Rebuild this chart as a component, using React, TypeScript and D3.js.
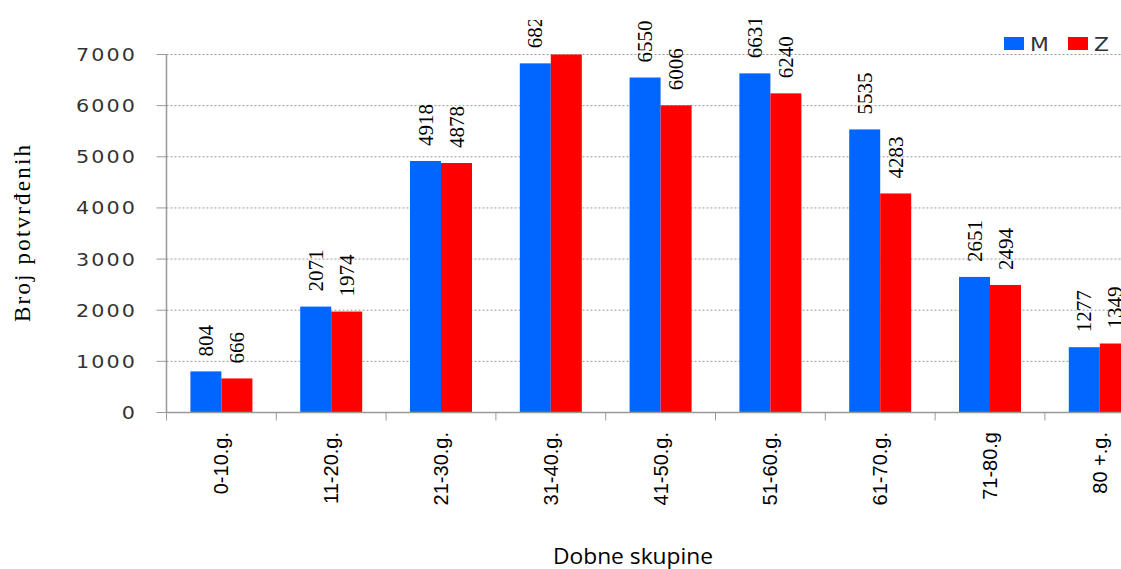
import React from "react";
import * as d3 from "d3";

const categories = ["0-10.g.", "11-20.g.", "21-30.g.", "31-40.g.", "41-50.g.", "51-60.g.", "61-70.g.", "71-80.g", "80 +.g."];
const valuesM = [804, 2071, 4918, 6827, 6550, 6631, 5535, 2651, 1277];
const valuesZ = [666, 1974, 4878, 7600, 6006, 6240, 4283, 2494, 1349];
const yTicks = [0, 1000, 2000, 3000, 4000, 5000, 6000, 7000];
const seriesNames = ["M", "Z"];
const colors = ["#0066FF", "#FF0000"];

export default function App() {
  const W = 1121, H = 569;
  const x0 = 166.5;
  const band = 109.8;
  const yMax = 7000;
  const x = d3.scaleBand<string>().domain(categories).range([x0, x0 + band * categories.length]).paddingInner(0).paddingOuter(0);
  const y = d3.scaleLinear().domain([0, yMax]).range([412.5, 54.5]);
  const bw = 31;
  const groupOff = (band - 2 * bw) / 2;
  const series = [valuesM, valuesZ];
  const labelFont = "'Liberation Serif', 'DejaVu Serif', serif";
  const xFont = "'Liberation Sans Narrow', 'Liberation Sans', Arial, sans-serif";
  const tickFont = "'DejaVu Sans', Verdana, sans-serif";

  return (
    <svg width={W} height={H} style={{ position: "absolute", left: 0, top: 0, background: "#fff" }}>
      <defs>
        <clipPath id="barclip">
          <rect x={x0} y={y(yMax)} width={W - x0} height={y(0) - y(yMax)} />
        </clipPath>
        <clipPath id="labelclip">
          <rect x={x0} y={20} width={W - x0} height={412.5 - 20} />
        </clipPath>
      </defs>
      {/* gridlines */}
      {yTicks.filter(t => t > 0).map(t => (
        <line key={t} x1={x0} x2={W} y1={y(t)} y2={y(t)} stroke="#999" strokeDasharray="2,2" strokeWidth={1} />
      ))}
      {/* bars */}
      <g clipPath="url(#barclip)">
        {categories.map((c, i) => (
          <g key={c}>
            {series.map((s, k) => {
              const bx = (x(c) as number) + groupOff + k * bw;
              return <rect key={k} x={bx} y={y(s[i])} width={bw} height={y(0) - y(s[i])} fill={colors[k]} />;
            })}
          </g>
        ))}
      </g>
      <g clipPath="url(#labelclip)">
        {categories.map((c, i) => (
          <g key={"lg" + c}>
            {series.map((s, k) => {
              if (s[i] > yMax) return null;
              const bx = (x(c) as number) + groupOff + k * bw + bw / 2;
              const ty = y(s[i]) - 15;
              return (
                <text key={"l" + k} transform={`translate(${bx + 7},${ty}) rotate(-90)`} fontFamily={labelFont} fontSize={21} fill="#000" textAnchor="start">
                  {s[i]}
                </text>
              );
            })}
          </g>
        ))}
      </g>
      {/* y axis */}
      <line x1={x0} x2={x0} y1={y(7000)} y2={y(0)} stroke="#999" strokeWidth={1.5} />
      {yTicks.map(t => (
        <g key={t}>
          <line x1={x0 - 10} x2={x0} y1={y(t)} y2={y(t)} stroke="#999" strokeWidth={1} />
          <text transform={`translate(137,${y(t)}) scale(1.15,1)`} dy="0.36em" textAnchor="end" letterSpacing={1.8} fontFamily={tickFont} fontSize={18} fill="#333">{t}</text>
        </g>
      ))}
      {/* x axis */}
      <line x1={x0} x2={W} y1={y(0)} y2={y(0)} stroke="#999" strokeWidth={1.5} />
      {categories.map((c, i) => (
        <line key={"t" + i} x1={(x(c) as number)} x2={(x(c) as number)} y1={y(0)} y2={y(0) + 8} stroke="#999" strokeWidth={1} />
      ))}
      {categories.map((c) => {
        const cx = (x(c) as number) + band / 2;
        return (
          <text key={"x" + c} transform={`translate(${cx + 7},${432}) rotate(-90)`} textAnchor="end" fontFamily={xFont} fontSize={20} fill="#000">{c}</text>
        );
      })}
      {/* axis titles */}
      <text transform={`translate(${30},${233.5}) rotate(-90)`} textAnchor="middle" fontFamily={labelFont} fontSize={23} textLength={177} lengthAdjust="spacing" fill="#000">Broj potvrđenih</text>
      <text x={633} y={564} textAnchor="middle" fontFamily="'Open Sans', 'Liberation Sans', sans-serif" fontSize={22} textLength={160} lengthAdjust="spacingAndGlyphs" fill="#000">Dobne skupine</text>
      {/* legend */}
      {seriesNames.map((n, k) => (
        <g key={n} transform={`translate(${1004 + k * 64},${37})`}>
          <rect x={0} y={0} width={20} height={13} fill={colors[k]} />
          <text transform="translate(26,14) scale(1.15,1)" fontFamily={tickFont} fontSize={19} fill="#333">{n}</text>
        </g>
      ))}
    </svg>
  );
}
